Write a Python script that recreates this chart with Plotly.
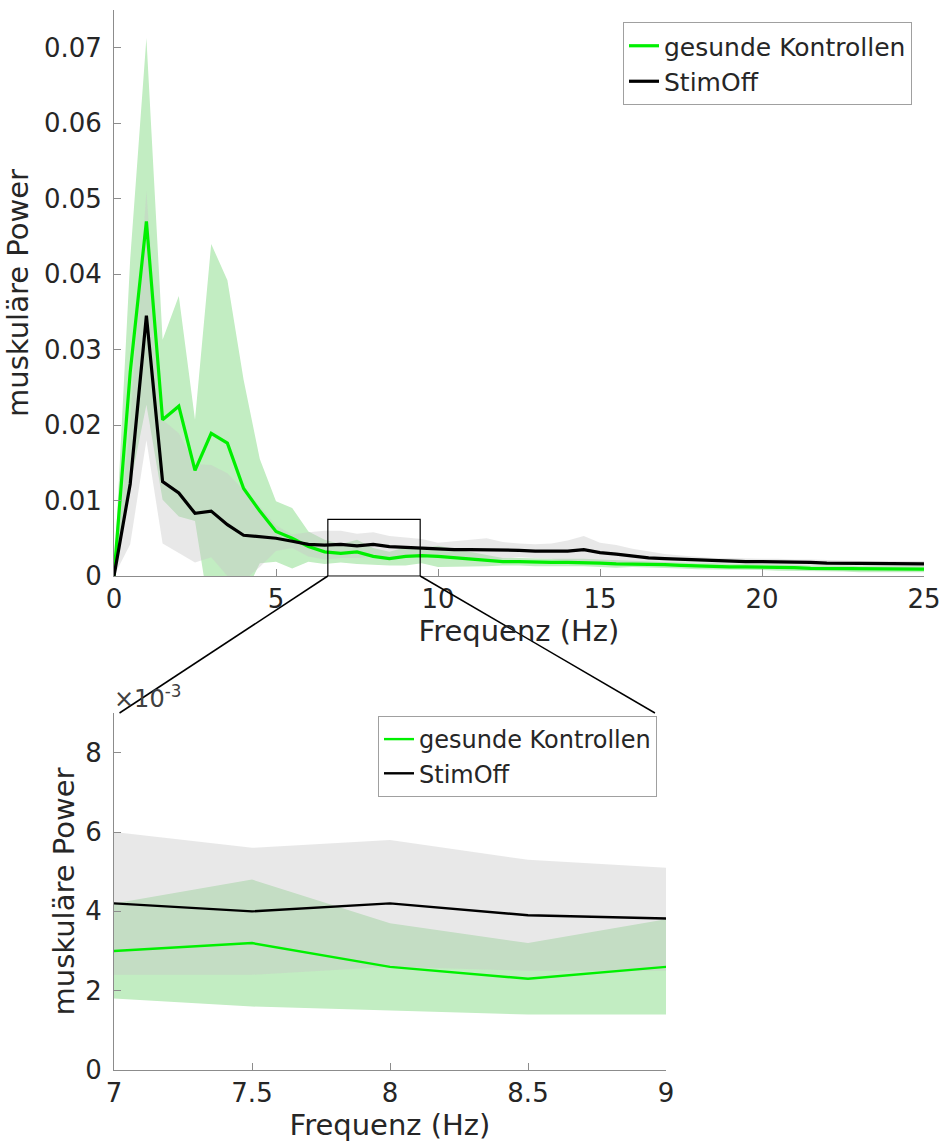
import plotly.graph_objects as go

# Frequency grid (Hz)
freq = [i * 0.5 for i in range(51)]

# Healthy controls: mean muscular power and standard deviation
kontrollen_mean = [
    0.0, 0.027, 0.047, 0.0207, 0.0225, 0.0140, 0.0189, 0.0176, 0.0116, 0.0086,
    0.0059, 0.0050, 0.0039, 0.0032, 0.0030, 0.0032, 0.0026, 0.0023, 0.0026, 0.0027,
    0.0026, 0.0024, 0.0022, 0.0020, 0.0019, 0.0019, 0.0018, 0.0018, 0.0018, 0.0018,
    0.0017, 0.0016, 0.0016, 0.0015, 0.0015, 0.0014, 0.0013, 0.0013, 0.0012, 0.0012,
    0.0012, 0.0011, 0.0011, 0.0010, 0.0010, 0.0010, 0.0009, 0.0009, 0.0009, 0.0009,
    0.0009,
]
kontrollen_sd = [
    0.0, 0.015, 0.0243, 0.0106, 0.0146, 0.0067, 0.0251, 0.0216, 0.0144, 0.0069,
    0.0040, 0.0040, 0.0020, 0.0016, 0.0012, 0.0016, 0.0011, 0.0009, 0.0012, 0.0010,
    0.0014, 0.0012, 0.0009, 0.0007, 0.0005, 0.0005, 0.0005, 0.0005, 0.0005, 0.0005,
    0.0005, 0.0005, 0.0004, 0.0004, 0.0004, 0.0004, 0.0004, 0.0004, 0.0004, 0.0004,
    0.0004, 0.0004, 0.0004, 0.0004, 0.0004, 0.0004, 0.0004, 0.0004, 0.0004, 0.0004,
    0.0004,
]

# StimOff condition: mean muscular power and standard deviation
stimoff_mean = [
    0.0, 0.0122, 0.0345, 0.0125, 0.0110, 0.0083, 0.0086, 0.0068, 0.0054, 0.0052,
    0.0050, 0.0046, 0.0042, 0.0041, 0.0042, 0.0040, 0.0042, 0.0039, 0.0038, 0.0037,
    0.0035, 0.0035, 0.0035, 0.0035, 0.0034, 0.0034, 0.0033, 0.0033, 0.0033, 0.0035,
    0.0031, 0.0029, 0.0026, 0.0024, 0.0023, 0.0022, 0.0021, 0.0020, 0.0020, 0.0019,
    0.0019, 0.0019, 0.0018, 0.0018, 0.0017, 0.0017, 0.0016, 0.0016, 0.0016, 0.0016,
    0.0016,
]
stimoff_sd = [
    0.0, 0.008, 0.0165, 0.0082, 0.0079, 0.0065, 0.0061, 0.0068, 0.0060, 0.0040,
    0.0017, 0.0009, 0.0016, 0.0019, 0.0018, 0.0016, 0.0016, 0.0014, 0.0013, 0.0012,
    0.0009, 0.0011, 0.0013, 0.0015, 0.0011, 0.0009, 0.0009, 0.0010, 0.0014, 0.0018,
    0.0013, 0.0012, 0.0010, 0.0009, 0.0006, 0.0005, 0.0004, 0.0004, 0.0004, 0.0004,
    0.0004, 0.0004, 0.0004, 0.0004, 0.0004, 0.0004, 0.0004, 0.0004, 0.0004, 0.0004,
    0.0004,
]

top_yticks = [0, 0.01, 0.02, 0.03, 0.04, 0.05, 0.06, 0.07]
top_yticktext = ["0", "0.01", "0.02", "0.03", "0.04", "0.05", "0.06", "0.07"]
top_xticks = [0, 5, 10, 15, 20, 25]
bot_xticks = [7, 7.5, 8, 8.5, 9]
bot_xticktext = ["7", "7.5", "8", "8.5", "9"]
bot_yticks = [0, 0.002, 0.004, 0.006, 0.008]
bot_yticktext = ["0", "2", "4", "6", "8"]

# Zoom window marked in the overview plot (Hz, power)
zoom_f = (6.6, 9.45)
zoom_p = (0.0, 0.0075)

W, H = 943, 1142
FONT = "DejaVu Sans"
TXT = "#262626"
AXC = "#8c8c8c"
GREEN = "#00f000"
GREEN_BAND = "rgb(194,237,194)"
GREY_BAND = "rgba(199,199,199,0.41)"

top_xr, top_yr = [0, 25], [0, 0.075]
bot_xr, bot_yr = [7, 9], [0, 0.009]
top_xd = [114 / W, 924 / W]
top_yd = [1 - 576 / H, 1 - 10 / H]
bot_xd = [114 / W, 666 / W]
bot_yd = [1 - 1070 / H, 1 - 713 / H]


def to_paper(x, y, xd, yd, xr, yr):
    px = xd[0] + (x - xr[0]) / (xr[1] - xr[0]) * (xd[1] - xd[0])
    py = yd[0] + (y - yr[0]) / (yr[1] - yr[0]) * (yd[1] - yd[0])
    return px, py


def band(mean, sd):
    upper = [m + s for m, s in zip(mean, sd)]
    lower = [m - s for m, s in zip(mean, sd)]
    return freq + freq[::-1], upper + lower[::-1]


fig = go.Figure()

for xa, ya, lg, lw in [("x", "y", "legend", 3.2), ("x2", "y2", "legend2", 2.4)]:
    bx, by = band(kontrollen_mean, kontrollen_sd)
    fig.add_trace(go.Scatter(x=bx, y=by, fill="toself", fillcolor=GREEN_BAND,
                             line=dict(width=0), mode="lines", hoverinfo="skip",
                             showlegend=False, xaxis=xa, yaxis=ya))
    bx, by = band(stimoff_mean, stimoff_sd)
    fig.add_trace(go.Scatter(x=bx, y=by, fill="toself", fillcolor=GREY_BAND,
                             line=dict(width=0), mode="lines", hoverinfo="skip",
                             showlegend=False, xaxis=xa, yaxis=ya))
    fig.add_trace(go.Scatter(x=freq, y=kontrollen_mean, mode="lines",
                             name="gesunde Kontrollen",
                             line=dict(color=GREEN, width=lw),
                             xaxis=xa, yaxis=ya, legend=lg))
    fig.add_trace(go.Scatter(x=freq, y=stimoff_mean, mode="lines",
                             name="StimOff",
                             line=dict(color="black", width=lw),
                             xaxis=xa, yaxis=ya, legend=lg))

axis_common = dict(
    showline=True, linecolor=AXC, linewidth=1, ticks="inside", ticklen=7,
    tickcolor=AXC, tickwidth=1, showgrid=False, zeroline=False, mirror=False,
    automargin=False,
    tickfont=dict(family=FONT, size=26, color=TXT),
)

fig.update_layout(
    width=W, height=H,
    margin=dict(l=0, r=0, t=0, b=0),
    paper_bgcolor="white", plot_bgcolor="white",
    font=dict(family=FONT, color=TXT),
    xaxis=dict(domain=top_xd, range=top_xr, tickvals=top_xticks, anchor="y",
               title=dict(text="Frequenz (Hz)", font=dict(size=29, color=TXT), standoff=4),
               **axis_common),
    yaxis=dict(domain=top_yd, range=top_yr, tickvals=top_yticks,
               ticktext=top_yticktext, anchor="x", ticklabelstandoff=6,
               title=dict(text="muskuläre Power", font=dict(size=29, color=TXT), standoff=6),
               **axis_common),
    xaxis2=dict(domain=bot_xd, range=bot_xr, tickvals=bot_xticks,
                ticktext=bot_xticktext, anchor="y2",
                title=dict(text="Frequenz (Hz)", font=dict(size=29, color=TXT), standoff=4),
                **axis_common),
    yaxis2=dict(domain=bot_yd, range=bot_yr, tickvals=bot_yticks,
                ticktext=bot_yticktext, anchor="x2", ticklabelstandoff=6,
                title=dict(text="muskuläre Power", font=dict(size=29, color=TXT), standoff=2),
                **axis_common),
    legend=dict(x=912 / W, y=1 - 22 / H, xanchor="right", yanchor="top",
                bgcolor="white", bordercolor="#a0a0a0", borderwidth=1,
                font=dict(family=FONT, size=25, color=TXT), tracegroupgap=0),
    legend2=dict(x=657 / W, y=1 - 716 / H, xanchor="right", yanchor="top",
                 bgcolor="white", bordercolor="#a0a0a0", borderwidth=1,
                 font=dict(family=FONT, size=24, color=TXT), tracegroupgap=0),
    showlegend=True,
)

# Zoom window in the overview
fig.add_shape(type="rect", xref="x", yref="y", x0=zoom_f[0], x1=zoom_f[1],
              y0=zoom_p[0], y1=zoom_p[1], line=dict(color="black", width=1.2))

# Connector lines from the zoom window to the detail plot
p_left = to_paper(zoom_f[0], zoom_p[0], top_xd, top_yd, top_xr, top_yr)
p_right = to_paper(zoom_f[1], zoom_p[0], top_xd, top_yd, top_xr, top_yr)
q_left = to_paper(7.02, 0.009, bot_xd, bot_yd, bot_xr, bot_yr)
q_right = to_paper(8.96, 0.009, bot_xd, bot_yd, bot_xr, bot_yr)
for a, b in [(p_left, q_left), (p_right, q_right)]:
    fig.add_shape(type="line", xref="paper", yref="paper", x0=a[0], y0=a[1],
                  x1=b[0], y1=b[1], line=dict(color="black", width=1.5))

# Exponent label of the detail plot's y axis
fig.add_annotation(text="×10<sup>-3</sup>", xref="paper", yref="paper",
                   x=bot_xd[0] - 2 / W, y=bot_yd[1] - 2 / H, xanchor="left",
                   yanchor="bottom", showarrow=False,
                   font=dict(family=FONT, size=24, color="#404040"))

fig.write_html("out.html")
